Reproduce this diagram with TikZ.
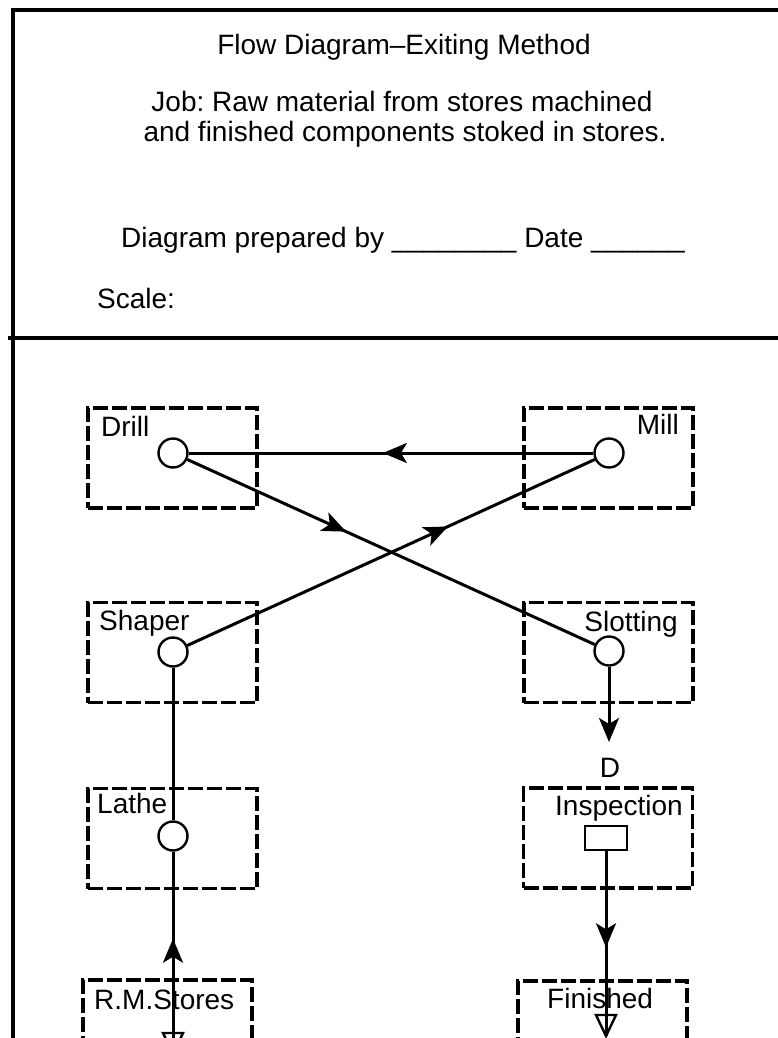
\documentclass[tikz,border=0pt]{standalone}
\usepackage{fontspec}
\setmainfont{Liberation Sans}
\usetikzlibrary{arrows.meta,decorations.markings}
\tikzset{
  frameline/.style={line width=3.6pt},
  mbox/.style={draw, line width=3.6pt, dash pattern=on 15pt off 4pt, minimum width=169pt, minimum height=100pt, inner sep=0pt},
  opc/.style={draw, circle, line width=2.4pt, minimum size=29pt, inner sep=0pt, fill=white},
  insprect/.style={draw, line width=2.4pt, minimum width=42pt, minimum height=24pt, inner sep=0pt, fill=white},
  conn/.style={line width=3pt},
  midarrow/.style={postaction={decorate}, decoration={markings, mark=at position #1 with {\arrow{Stealth[length=24pt,width=20pt,inset=6pt]}}}},
  txt/.style={inner sep=0pt, font=\fontsize{28}{31}\selectfont\frenchspacing},
  lblw/.style={txt, anchor=base west},
  lble/.style={txt, anchor=base east},
}
\begin{document}
\begin{tikzpicture}[x=1pt,y=-1pt]
\clip (0,0) rectangle (778,1038);
\fill[white] (0,0) rectangle (778,1038);
% frame
\draw[frameline] (778,10) -- (13,10) -- (13,1040);
\draw[frameline] (8,338) -- (778,338);
% header texts
\node[txt, anchor=base] (title) at (404,55) {Flow Diagram–Exiting Method};
\node[txt, anchor=base] (job1) at (402,112) {Job: Raw material from stores machined};
\node[txt, anchor=base] (job2) at (405,142) {and finished components stoked in stores.};
\node[lblw] (prep) at (121,247) {Diagram prepared by \_\_\_\_\_\_\_\_ Date \_\_\_\_\_\_};
\node[lblw] (scale) at (97,308) {Scale:};
% boxes
\node[mbox] (drillbox) at (172.5,458) {};
\node[mbox] (millbox) at (608.5,458) {};
\node[mbox] (shaperbox) at (172.5,652.5) {};
\node[mbox] (slotbox) at (608.5,652.5) {};
\node[mbox] (lathebox) at (172.5,838.5) {};
\node[mbox] (inspbox) at (608,838) {};
\node[mbox] (rmbox) at (167.5,1030) {};
\node[mbox] (finbox) at (602.5,1031) {};
% labels
\node[lblw] (drilll) at (101,436) {Drill};
\node[lble] (milll) at (679,434) {Mill};
\node[lblw] (shaperl) at (99,630) {Shaper};
\node[lble] (slotl) at (678,631) {Slotting};
\node[lblw] (lathel) at (97,813) {Lathe};
\node[lble] (inspl) at (683,815) {Inspection};
\node[lblw] (rml) at (94,1009) {R.M.Stores};
\node[lblw] (finl) at (547,1008) {Finished};
\node[txt, anchor=base] (dl) at (610,777) {D};
% triangles (storage)
\coordinate (rmtip) at (173,1054);
\coordinate (fintip) at (606,1036);
\draw[line width=2.4pt, fill=white] (rmtip) -- ++(-10,-21) -- ++(20,0) -- cycle;
\draw[line width=2.4pt, fill=white] (fintip) -- ++(-10,-21) -- ++(20,0) -- cycle;
% symbols
\node[opc] (drillc) at (173,453) {};
\node[opc] (millc) at (609,453) {};
\node[opc] (shaperc) at (173,652) {};
\node[opc] (slotc) at (609,651) {};
\node[opc] (lathec) at (173,836) {};
\node[insprect] (insp) at (606,838) {};
\coordinate (dtop) at (609,742);
% connectors
\draw[conn, midarrow=0.52] (millc) -- (drillc);
\draw[conn, midarrow=0.39] (drillc) -- (slotc);
\draw[conn, midarrow=0.64] (shaperc) -- (millc);
\draw[conn] (shaperc) -- (lathec);
\draw[conn, midarrow=0.57] (rmtip) -- (lathec);
\draw[conn, -{Stealth[length=24pt,width=20pt,inset=6pt]}] (slotc) -- (dtop);
\draw[conn, midarrow=0.52] (insp) -- (fintip);
\end{tikzpicture}
\end{document}
